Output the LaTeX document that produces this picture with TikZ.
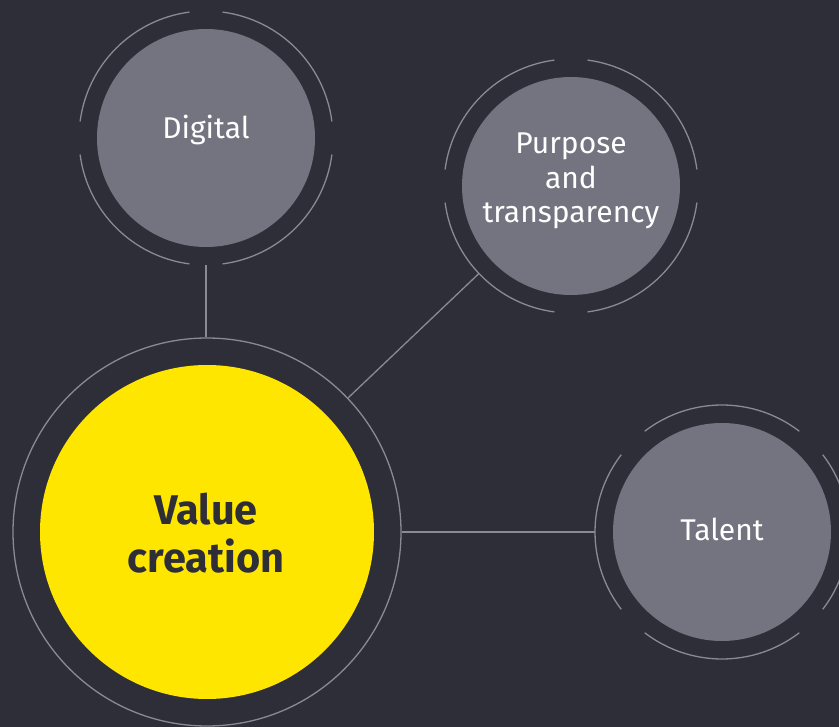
\documentclass[tikz,border=0pt]{standalone}
\usepackage{fontspec}
\setmainfont{Fira Sans}
\definecolor{bg}{HTML}{2E2E38}
\definecolor{bub}{HTML}{747480}
\definecolor{ringc}{HTML}{8A8A94}
\definecolor{eyyellow}{HTML}{FFE600}
\begin{document}
\begin{tikzpicture}[x=1pt,y=-1pt,
  bubble/.style={circle,fill=bub,inner sep=0pt,minimum size=#1},
  ringnode/.style={circle,inner sep=0pt,minimum size=#1},
  ringline/.style={draw=ringc,line width=1.3pt},
  conn/.style={draw=ringc,line width=1.3pt},
  lbl/.style={text=white,inner sep=0pt,align=center,font=\fontsize{30}{34.5}\selectfont},
  vlbl/.style={text=bg,inner sep=0pt,align=center,font=\fontsize{41.5}{48}\selectfont\bfseries}]
\useasboundingbox (0,0) rectangle (839,727);
\clip (0,0) rectangle (839,727);
\fill[bg] (0,0) rectangle (839,727);
% Value creation
\node[ringnode=388pt,ringline] (ringV) at (207,532) {};
\node[circle,fill=eyyellow,inner sep=0pt,minimum size=334pt] (V) at (207,532) {};
\node[vlbl] (tV) at (206,533) {Value\\creation};
% Digital
\node[ringnode=254pt] (ringD) at (206,138) {};
\node[bubble=218pt] (D) at (206,138) {};
\foreach \a in {0,90,180,270}
  \draw[ringline] ([shift={(\a+7.5:127)}]ringD.center) arc (\a+7.5:\a+82.5:127);
\node[lbl,anchor=base] (tD) at (206,139) {Digital};
% Purpose
\node[ringnode=254pt] (ringP) at (571,186) {};
\node[bubble=218pt] (P) at (571,186) {};
\foreach \a in {0,90,180,270}
  \draw[ringline] ([shift={(\a+7.5:127)}]ringP.center) arc (\a+7.5:\a+82.5:127);
\node[lbl] (tP) at (571,181) {Purpose\\and\\transparency};
% Talent
\node[ringnode=254pt] (ringT) at (722,532) {};
\node[bubble=218pt] (T) at (722,532) {};
\foreach \a in {45,135,225,315}
  \draw[ringline] ([shift={(\a+7.5:127)}]ringT.center) arc (\a+7.5:\a+82.5:127);
\node[lbl,anchor=base] (tT) at (722,540) {Talent};
% connectors
\draw[conn] (ringD.south) -- (ringD.south |- ringV.north);
\draw[conn] (ringP) -- (ringV);
\draw[conn] (ringT) -- (ringV);
\end{tikzpicture}
\end{document}
